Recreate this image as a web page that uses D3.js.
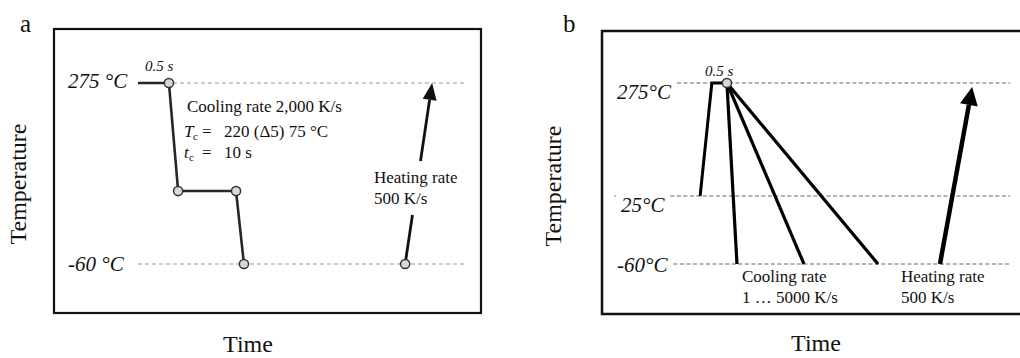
<!DOCTYPE html>
<html>
<head>
<meta charset="utf-8">
<script src="https://cdn.jsdelivr.net/npm/d3@7"></script>
<style>
  html, body { margin: 0; padding: 0; background: #fff; }
  svg { display: block; }
  text { font-family: 'Liberation Serif', 'Times New Roman', Times, serif; }
</style>
</head>
<body>
<svg id="chart" width="1020" height="358"></svg>
<script>
// ---- Panel a: stepwise cooling cycle (schematic time units 0..100) ----
const levelsA = [275, -60];
const levelLabelsA = ["275 °C", "-60 °C"];
const cycleTimeA = [0, 9.4, 12.2, 29.8, 32.2];
const cycleTempA = [275, 275, 75, 75, -60];
const heatTimeA = [81.2, 89.4];
const heatTempA = [-60, 275];

// ---- Panel b: cooling at several rates ----
const levelsB = [275, 25, -60];
const levelLabelsB = ["275°C", "25°C", "-60°C"];
const riseTimeB = [7.5, 11.0, 15.5];
const riseTempB = [25, 275, 275];
const coolEndTimeB = [18.5, 38.5, 60.6];
const coolEndTempB = -60;
const heatTimeB = [79.1, 88.7];
const heatTempB = [-60, 266];

const svg = d3.select("#chart");

const xA = d3.scaleLinear().domain([0, 100]).range([138, 467]);
const yA = d3.scaleLinear().domain([-60, 275]).range([264, 83]);
const xB = d3.scaleLinear().domain([0, 100]).range([675, 1010]);
const yB = d3.scaleLinear().domain([-60, 25, 275]).range([264, 196, 83]);

const serif = "'Liberation Serif', 'Times New Roman', Times, serif";

function txt(g, x, y, s, size, opts = {}) {
  return g.append("text")
    .attr("x", x).attr("y", y)
    .attr("font-family", serif)
    .attr("font-size", size)
    .attr("font-style", opts.italic ? "italic" : "normal")
    .attr("text-anchor", opts.anchor || "start")
    .attr("fill", opts.fill || "#111")
    .text(s);
}

// arrow from (x1,y1) to tip (x2,y2); optional gap given as [yLow, yHigh] in pixels
function arrow(g, x1, y1, x2, y2, w, headLen, headW, color, gap) {
  const ang = Math.atan2(y2 - y1, x2 - x1);
  const c = Math.cos(ang), s = Math.sin(ang);
  const bx = x2 - headLen * c, by = y2 - headLen * s;
  const at = yy => x1 + (x2 - x1) * (yy - y1) / (y2 - y1);
  const segs = gap
    ? [[[x1, y1], [at(gap[0]), gap[0]]], [[at(gap[1]), gap[1]], [bx, by]]]
    : [[[x1, y1], [bx, by]]];
  segs.forEach(([p, q]) => {
    g.append("line")
      .attr("x1", p[0]).attr("y1", p[1]).attr("x2", q[0]).attr("y2", q[1])
      .attr("stroke", color).attr("stroke-width", w);
  });
  const hw = headW / 2;
  g.append("path")
    .attr("d", `M${x2},${y2}L${bx - hw * s},${by + hw * c}L${bx + hw * s},${by - hw * c}Z`)
    .attr("fill", color);
}

const line = (xs, ys) => d3.line().x(d => xs(d[0])).y(d => ys(d[1]));

// ================= Panel a =================
const ga = svg.append("g");
ga.append("rect").attr("x", 54).attr("y", 29).attr("width", 427).attr("height", 284)
  .attr("fill", "none").attr("stroke", "#111").attr("stroke-width", 2.2);
txt(ga, 20, 32, "a", 25);
txt(ga, 0, 0, "Temperature", 24, { anchor: "middle" })
  .attr("transform", "translate(26,184) rotate(-90)");
txt(ga, 248, 352, "Time", 24, { anchor: "middle" });

// dashed reference levels
const holdEndA = cycleTimeA[1];
ga.selectAll(".lvl").data(levelsA).join("line")
  .attr("x1", (d, i) => i === 0 ? xA(holdEndA) + 4 : xA(0))
  .attr("x2", xA(100))
  .attr("y1", d => yA(d)).attr("y2", d => yA(d))
  .attr("stroke", "#9a9a9a").attr("stroke-width", 1.2).attr("stroke-dasharray", "4,3");

levelsA.forEach((v, i) => {
  txt(ga, 68, yA(v) + (i === 0 ? 5 : 7), levelLabelsA[i], 21, { italic: true });
});

// temperature path
const ptsA = cycleTimeA.map((t, i) => [t, cycleTempA[i]]);
ga.append("path").attr("d", line(xA, yA)(ptsA))
  .attr("fill", "none").attr("stroke", "#262626").attr("stroke-width", 2.6)
  .attr("stroke-linejoin", "round");

// heating arrow with a break where its label sits
arrow(ga, xA(heatTimeA[0]), yA(heatTempA[0]), xA(heatTimeA[1]), yA(heatTempA[1]),
  2.8, 17, 14, "#111", [215, 161]);

// marked points
const markA = ptsA.slice(1).concat([[heatTimeA[0], heatTempA[0]]]);
ga.selectAll(".mk").data(markA).join("circle")
  .attr("cx", d => xA(d[0])).attr("cy", d => yA(d[1])).attr("r", 4.6)
  .attr("fill", "#d3d9e2").attr("stroke", "#333").attr("stroke-width", 1.5);

txt(ga, 145, 71, "0.5 s", 15, { italic: true });
txt(ga, 187, 112, "Cooling rate 2,000 K/s", 17);
txt(ga, 184, 137, "T", 17, { italic: true });
txt(ga, 193, 140, "c", 11);
txt(ga, 202, 137, "=", 17);
txt(ga, 224, 137, "220 (Δ5) 75 °C", 17);
txt(ga, 184, 158, "t", 17, { italic: true });
txt(ga, 189, 161, "c", 11);
txt(ga, 202, 158, "=", 17);
txt(ga, 224, 158, "10 s", 17);
txt(ga, 374, 183, "Heating rate", 17);
txt(ga, 374, 204, "500 K/s", 17);

// ================= Panel b =================
const gb = svg.append("g");
gb.append("rect").attr("x", 602).attr("y", 31).attr("width", 440).attr("height", 283)
  .attr("fill", "none").attr("stroke", "#111").attr("stroke-width", 2.5);
txt(gb, 563, 32, "b", 25);
txt(gb, 0, 0, "Temperature", 24, { anchor: "middle" })
  .attr("transform", "translate(561,186) rotate(-90)");
txt(gb, 816, 351, "Time", 24, { anchor: "middle" });

const labelYOff = [16, 16, 8];
const labelXB = [617, 621, 617];
levelsB.forEach((v, i) => {
  const t = txt(gb, labelXB[i], yB(v) + labelYOff[i], levelLabelsB[i], 21, { italic: true });
  const bb = t.node().getBBox();
  gb.append("line")
    .attr("x1", bb.x + bb.width + 5).attr("x2", xB(100))
    .attr("y1", yB(v)).attr("y2", yB(v))
    .attr("stroke", "#666").attr("stroke-width", 1.2).attr("stroke-dasharray", "4,2.5");
});
gb.append("circle").attr("cx", 615).attr("cy", yB(25)).attr("r", 0.8).attr("fill", "#777");

// heat-up and hold
const riseB = riseTimeB.map((t, i) => [t, riseTempB[i]]);
gb.append("path").attr("d", line(xB, yB)(riseB))
  .attr("fill", "none").attr("stroke", "#000").attr("stroke-width", 3)
  .attr("stroke-linejoin", "miter");

// cooling lines at different rates
const holdEnd = riseB[riseB.length - 1];
gb.selectAll(".cool").data(coolEndTimeB).join("line")
  .attr("x1", xB(holdEnd[0])).attr("y1", yB(holdEnd[1]))
  .attr("x2", d => xB(d)).attr("y2", yB(coolEndTempB))
  .attr("stroke", "#000").attr("stroke-width", 3.2);

gb.append("circle").attr("cx", xB(holdEnd[0])).attr("cy", yB(holdEnd[1])).attr("r", 4.6)
  .attr("fill", "#d3d9e2").attr("stroke", "#333").attr("stroke-width", 1.5);

arrow(gb, xB(heatTimeB[0]), yB(heatTempB[0]), xB(heatTimeB[1]), yB(heatTempB[1]),
  4.5, 18, 18, "#000");

txt(gb, 705, 76, "0.5 s", 15, { italic: true });
txt(gb, 742, 282, "Cooling rate", 17);
txt(gb, 742, 303, "1 … 5000 K/s", 17);
txt(gb, 901, 282, "Heating rate", 17);
txt(gb, 901, 303, "500 K/s", 17);
</script>
</body>
</html>
